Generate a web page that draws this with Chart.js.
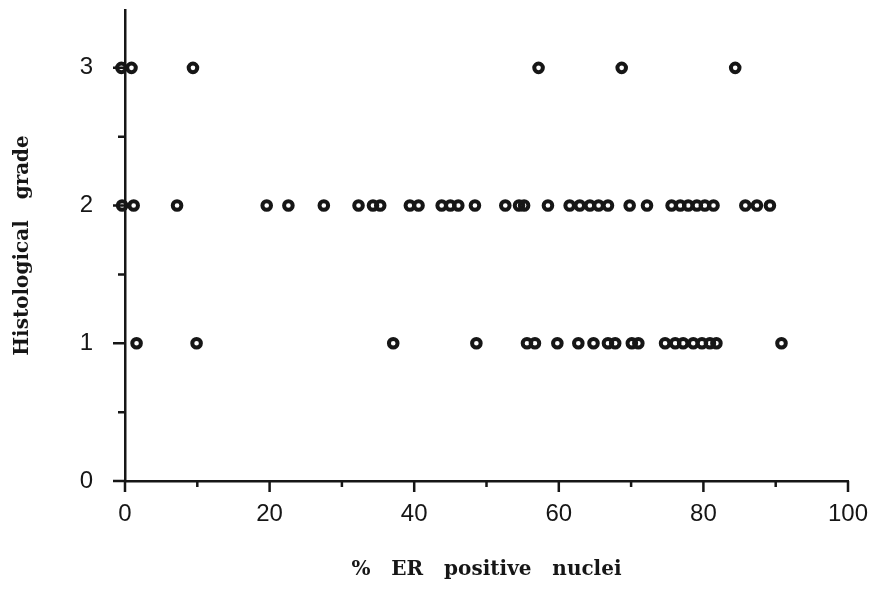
<!DOCTYPE html>
<html>
<head>
<meta charset="utf-8">
<script src="https://cdn.jsdelivr.net/npm/chart.js@4/dist/chart.umd.min.js"></script>
<style>
  body { margin: 0; background: #fff; }
</style>
</head>
<body>
<canvas id="erChart" width="878" height="589"></canvas>
<script>
// % ER positive nuclei, one list per histological grade
const grade1Er = [1.6, 9.9, 37.1, 48.6, 55.6, 56.7, 59.8, 62.7, 64.8, 66.8, 67.8, 70.1, 71.0,
  74.7, 76.1, 77.2, 78.6, 79.8, 80.9, 81.8, 90.8];
const grade2Er = [-0.4, 1.2, 7.2, 19.6, 22.6, 27.5, 32.3, 34.3, 35.3, 39.4, 40.6, 43.8, 45.0,
  46.1, 48.4, 52.6, 54.5, 55.2, 58.5, 61.5, 62.9, 64.3, 65.5, 66.8, 69.8, 72.2, 75.6, 76.8,
  77.9, 79.1, 80.2, 81.4, 85.8, 87.4, 89.2];
const grade3Er = [-0.5, 0.9, 9.4, 57.2, 68.7, 84.4];
const grades = [1, 2, 3];

const xTicks = [0, 10, 20, 30, 40, 50, 60, 70, 80, 90, 100];
const yTicks = [0, 0.5, 1, 1.5, 2, 2.5, 3];

const ink = '#161616';

const points = [];
[grade1Er, grade2Er, grade3Er].forEach((list, i) => {
  list.forEach(v => points.push({ x: v, y: grades[i] }));
});

// tick marks of two lengths, placed through the scales
const tickMarks = {
  id: 'tickMarks',
  afterDraw(chart) {
    const { ctx, scales: { x, y } } = chart;
    ctx.save();
    ctx.strokeStyle = ink;
    ctx.lineWidth = 2.5;
    ctx.beginPath();
    xTicks.forEach(v => {
      const px = x.getPixelForValue(v);
      const len = v % 20 === 0 ? 11 : 6;
      ctx.moveTo(px, x.top);
      ctx.lineTo(px, x.top + len);
    });
    yTicks.forEach(v => {
      const py = y.getPixelForValue(v);
      const len = Number.isInteger(v) ? 12 : 7;
      ctx.moveTo(y.right, py);
      ctx.lineTo(y.right - len, py);
    });
    ctx.stroke();
    ctx.restore();
  }
};

const tickFont = { family: 'Liberation Sans', size: 24 };
const titleFont = { family: 'DejaVu Serif', size: 20, weight: 'bold' };

new Chart(document.getElementById('erChart').getContext('2d'), {
  type: 'scatter',
  data: {
    datasets: [{
      data: points,
      pointRadius: 4.3,
      pointHoverRadius: 4.3,
      borderWidth: 4,
      borderColor: ink,
      backgroundColor: 'rgba(0,0,0,0)',
      clip: false
    }]
  },
  options: {
    responsive: false,
    animation: false,
    devicePixelRatio: 1,
    layout: { padding: { top: 10, right: 30, left: 0, bottom: 0 } },
    plugins: { legend: { display: false }, tooltip: { enabled: false } },
    scales: {
      x: {
        type: 'linear',
        min: 0,
        max: 100,
        afterFit: s => { s.height = 108; s.paddingLeft = 0; s.paddingRight = 0; },
        grid: { display: false, drawTicks: false },
        border: { display: true, color: ink, width: 2.5 },
        ticks: {
          stepSize: 10,
          autoSkip: false,
          maxRotation: 0,
          padding: 19,
          color: ink,
          font: tickFont,
          callback: v => (v % 20 === 0 ? v : '')
        },
        title: {
          display: true,
          text: '%   ER   positive   nuclei',
          color: ink,
          font: titleFont,
          padding: { top: 0, bottom: 7 }
        }
      },
      y: {
        min: 0,
        max: 3.42,
        afterFit: s => { s.width = 125; s.paddingTop = 0; s.paddingBottom = 0; },
        grid: { display: false, drawTicks: false },
        border: { display: true, color: ink, width: 2.5 },
        ticks: {
          stepSize: 0.5,
          autoSkip: false,
          padding: 32,
          color: ink,
          font: tickFont,
          callback: v => (Number.isInteger(v) ? v : '')
        },
        title: {
          display: true,
          text: 'Histological   grade',
          color: ink,
          font: titleFont,
          padding: { top: 11, bottom: 0 }
        }
      }
    }
  },
  plugins: [tickMarks]
});
</script>
</body>
</html>
